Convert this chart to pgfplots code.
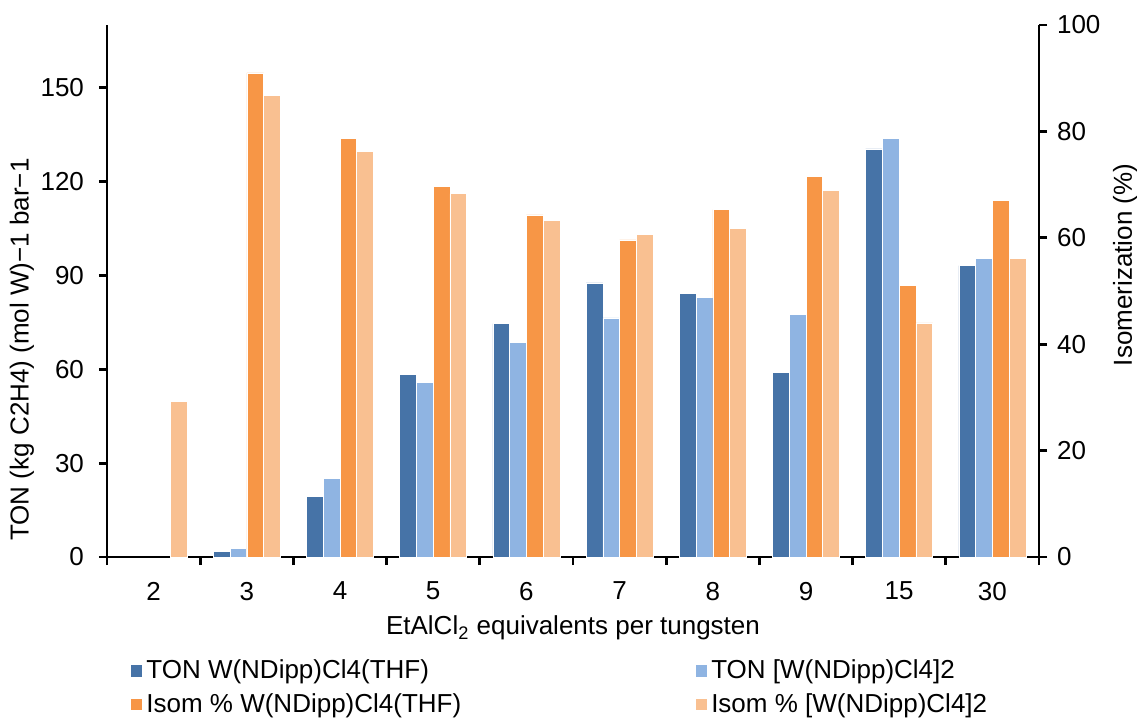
\documentclass[border=0pt]{standalone}
\usepackage{fontspec}
\setmainfont{Liberation Sans}
\usepackage{pgfplots}
\pgfplotsset{compat=1.18}
\definecolor{cA}{HTML}{4673A7}
\definecolor{cB}{HTML}{8FB4E2}
\definecolor{cC}{HTML}{F79646}
\definecolor{cD}{HTML}{F9C091}
\pgfplotsset{
  base/.style={
    width=466pt, height=266pt, scale only axis,
    at={(0,0)}, anchor=south west,
    xmin=-0.5, xmax=9.5,
    ybar, bar width=0.18,
    axis line style={line width=1.4pt},
    every tick/.style={line width=1.4pt, black},
    tick align=outside,
    major tick length=4pt, minor tick length=4pt,
    font=\fontsize{13}{15.6}\selectfont,
    tick label style={font=\fontsize{13}{15.6}\selectfont},
    label style={font=\fontsize{13}{15.6}\selectfont},
    /pgf/number format/assume math mode=true,
    legend image code/.code={\fill[#1,draw=none] (0pt,-2.8pt) rectangle (5.5pt,2.8pt);},
  },
  barst/.style={fill=#1, draw=white, line width=0.3pt},
}
\begin{document}
\begin{tikzpicture}
\useasboundingbox (-53.5pt,-81pt) rectangle (515pt,278.5pt);
\begin{axis}[base,
  axis y line*=left, axis x line*=bottom,
  ymin=0, ymax=170, ytick={0,30,60,90,120,150},
  yticklabel style={xshift=-4pt},
  xtick={-0.5,0.5,...,9.5},
  x tick label as interval,
  xticklabel style={yshift=-5pt},
  xticklabels={2,3,4,5,6,7,8,9,15,30},
  xlabel={EtAlCl\textsubscript{2} equivalents per tungsten},
  ylabel={TON (kg C2H4) (mol W)−1 bar−1},
  every axis y label/.style={at={(axis description cs:-0.0912,0.39)}, rotate=90, anchor=center},
  every axis x label/.style={at={(axis description cs:0.5,0)}, yshift=-35.5pt, anchor=center},
]
\addplot[barst=cA, bar shift=-0.27] coordinates {(1,1.8) (2,19.4) (3,58.4) (4,74.6) (5,87.6) (6,84.3) (7,59.0) (8,130.4) (9,93.1)};
\addplot[barst=cB, bar shift=-0.09] coordinates {(1,2.85) (2,25.2) (3,55.8) (4,68.6) (5,76.4) (6,83.0) (7,77.4) (8,133.7) (9,95.4)};
\end{axis}
\begin{axis}[base,
  axis y line*=right, axis x line=none,
  ymin=0, ymax=100, ytick={0,20,40,60,80,100},
  yticklabel style={xshift=1.5pt},
  ylabel={Isomerization (\%)},
  every axis y label/.style={at={(axis description cs:1.0923,0.549)}, rotate=90, anchor=center},
  legend style={at={(axis description cs:0.0193,-0.178)}, anchor=north west, draw=none, fill=none,
    font=\fontsize{13}{15.6}\selectfont, row sep=1.9pt,
    /tikz/every even column/.append style={column sep=115.5pt}},
  legend columns=2, legend cell align=left,
]
\addlegendimage{barst=cA}
\addlegendentry{TON W(NDipp)Cl4(THF)}
\addlegendimage{barst=cB}
\addlegendentry{TON [W(NDipp)Cl4]2}
\addplot[barst=cC, bar shift=0.09] coordinates {(1,91.0) (2,78.7) (3,69.6) (4,64.3) (5,59.6) (6,65.3) (7,71.5) (8,51.1) (9,67.0)};
\addlegendentry{Isom \% W(NDipp)Cl4(THF)}
\addplot[barst=cD, bar shift=0.27] coordinates {(0,29.3) (1,86.8) (2,76.2) (3,68.3) (4,63.2) (5,60.7) (6,61.8) (7,68.9) (8,44.0) (9,56.1)};
\addlegendentry{Isom \% [W(NDipp)Cl4]2}
\end{axis}
\end{tikzpicture}
\end{document}
